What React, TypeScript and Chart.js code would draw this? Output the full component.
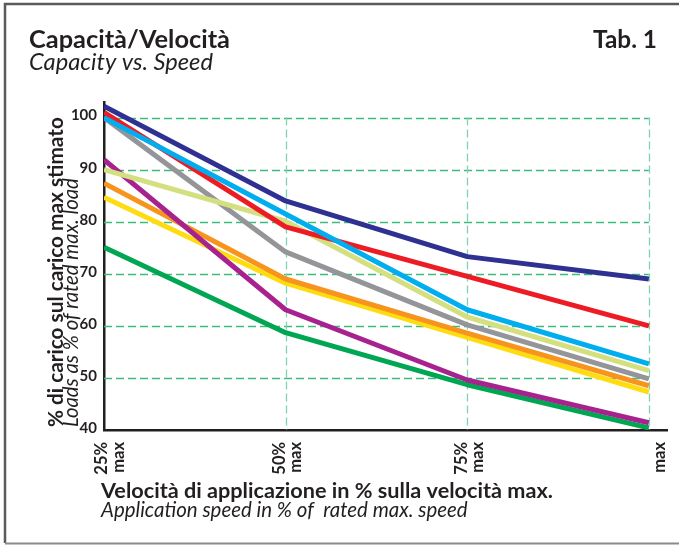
import React, { useEffect, useRef } from "react";
import { Chart, registerables } from "chart.js";

Chart.register(...registerables);

const categories: string[][] = [["25%", "max"], ["50%", "max"], ["75%", "max"], ["", "max"]];
const yTicks: number[] = [40, 50, 60, 70, 80, 90, 100];

const navy: number[] = [102.2, 84, 73.3, 69.0];
const cyan: number[] = [100, 81.5, 63.1, 52.7];
const red: number[] = [101.0, 79, 69.5, 60.0];
const lightGreen: number[] = [90.0, 80.1, 61.7, 51.4];
const gray: number[] = [100, 74.2, 60.2, 49.8];
const purple: number[] = [91.9, 63.1, 49.6, 41.4];
const orange: number[] = [87.4, 69.0, 58.6, 48.5];
const yellow: number[] = [84.7, 68.2, 57.8, 47.3];
const green: number[] = [75.1, 58.7, 48.7, 40.4];

const series = [
  { name: "navy", values: navy, color: "#2e3192" },
  { name: "cyan", values: cyan, color: "#00aeef" },
  { name: "red", values: red, color: "#ed1c24" },
  { name: "lightGreen", values: lightGreen, color: "#d4e07f" },
  { name: "gray", values: gray, color: "#939598" },
  { name: "purple", values: purple, color: "#a8228f" },
  { name: "orange", values: orange, color: "#f7941d" },
  { name: "yellow", values: yellow, color: "#ffdc12" },
  { name: "green", values: green, color: "#00a651" },
];

const FONT = "Lato, 'Open Sans', sans-serif";
const INK = "#231f20";

function fitFont(ctx: CanvasRenderingContext2D, text: string, style: string, target: number) {
  ctx.font = `${style} 100px ${FONT}`;
  const w = ctx.measureText(text).width;
  const size = (100 * target) / w;
  ctx.font = `${style} ${size.toFixed(2)}px ${FONT}`;
}

const decorPlugin = {
  id: "decor",
  beforeDatasetsDraw(chart: any) {
    const { ctx, scales } = chart;
    const xs = scales.x;
    const ys = scales.y;
    const x0 = xs.getPixelForValue(0);
    const x3 = xs.getPixelForValue(3);
    const y40 = ys.getPixelForValue(40);
    const y100 = ys.getPixelForValue(100);
    ctx.save();
    ctx.lineWidth = 1.3;
    ctx.setLineDash([8, 4]);
    ctx.strokeStyle = "#3dbb7e";
    yTicks.forEach((v) => {
      if (v === 40) return;
      const y = Math.round(ys.getPixelForValue(v)) + 0.5;
      ctx.beginPath();
      ctx.moveTo(x0, y);
      ctx.lineTo(x3, y);
      ctx.stroke();
    });
    ctx.strokeStyle = "#7fd3b5";
    [1, 2, 3].forEach((v) => {
      const x = Math.round(xs.getPixelForValue(v)) + 0.5;
      ctx.beginPath();
      ctx.moveTo(x, y100);
      ctx.lineTo(x, y40);
      ctx.stroke();
    });
    ctx.restore();
  },
  afterDraw(chart: any) {
    const { ctx, scales } = chart;
    const xs = scales.x;
    const ys = scales.y;
    ctx.save();
    // frame
    ctx.strokeStyle = "#5a5a5a";
    ctx.lineWidth = 2.5;
    ctx.beginPath();
    ctx.moveTo(690, 4);
    ctx.lineTo(5, 4);
    ctx.lineTo(5, 543);
    ctx.stroke();
    ctx.strokeStyle = "#8a8a8a";
    ctx.lineWidth = 2;
    ctx.beginPath();
    ctx.moveTo(5, 543.5);
    ctx.lineTo(690, 543.5);
    ctx.stroke();

    ctx.fillStyle = INK;

    // y tick labels
    ctx.font = `bold 15px ${FONT}`;
    ctx.textAlign = "right";
    ctx.textBaseline = "middle";
    yTicks.forEach((v) => {
      ctx.fillText(String(v), xs.left - 7, ys.getPixelForValue(v) - 2);
    });

    // x tick labels (rotated)
    ctx.font = `bold 16.5px ${FONT}`;
    categories.forEach((lines, i) => {
      const px = xs.getPixelForValue(i);
      const c1 = Math.max(px - 6, xs.left - 2);
      const centers = [c1, c1 + 16.5];
      lines.forEach((t, j) => {
        if (!t) return;
        ctx.save();
        ctx.translate(centers[j], 442);
        ctx.rotate(-Math.PI / 2);
        ctx.textAlign = "right";
        ctx.textBaseline = "middle";
        ctx.fillText(t, 0, 0);
        ctx.restore();
      });
    });

    ctx.textBaseline = "alphabetic";
    ctx.textAlign = "left";
    fitFont(ctx, "Capacità/Velocità", "bold", 201);
    ctx.fillText("Capacità/Velocità", 29, 48);
    ctx.textAlign = "right";
    fitFont(ctx, "Tab. 1", "bold", 64);
    ctx.fillText("Tab. 1", 657, 48);
    ctx.textAlign = "left";
    fitFont(ctx, "Capacity vs. Speed", "italic", 184);
    ctx.fillText("Capacity vs. Speed", 29, 70);

    fitFont(ctx, "Velocità di applicazione in % sulla velocità max.", "bold", 452);
    ctx.fillText("Velocità di applicazione in % sulla velocità max.", 101, 498);
    fitFont(ctx, "Application speed in % of  rated max. speed", "italic", 367);
    ctx.fillText("Application speed in % of  rated max. speed", 101, 517);

    ctx.save();
    ctx.translate(63, 427);
    ctx.rotate(-Math.PI / 2);
    fitFont(ctx, "% di carico sul carico max stimato", "bold", 310);
    ctx.fillText("% di carico sul carico max stimato", 0, 0);
    ctx.restore();
    ctx.save();
    ctx.translate(78, 427);
    ctx.rotate(-Math.PI / 2);
    fitFont(ctx, "Loads as % of rated max. load", "italic", 249);
    ctx.fillText("Loads as % of rated max. load", 0, 0);
    ctx.restore();

    ctx.restore();
  },
};

export default function App() {
  const ref = useRef<HTMLCanvasElement | null>(null);
  useEffect(() => {
    if (!ref.current) return;
    const chart = new Chart(ref.current, {
      type: "line",
      data: {
        datasets: series.map((s) => ({
          label: s.name,
          data: s.values.map((v, i) => ({ x: i, y: v })),
          borderColor: s.color,
          backgroundColor: s.color,
          borderWidth: 5,
          pointRadius: 0,
          tension: 0,
          borderJoinStyle: "round" as const,
          borderCapStyle: "butt" as const,
        })),
      },
      options: {
        animation: false,
        responsive: false,
        layout: { autoPadding: false, padding: { left: 0, top: 102, right: 12, bottom: 0 } },
        plugins: { legend: { display: false }, tooltip: { enabled: false }, title: { display: false } },
        scales: {
          x: {
            type: "linear",
            min: 0,
            max: 3.1,
            afterFit: (scale: any) => {
              scale.height = 115;
              scale.paddingLeft = 0;
              scale.paddingRight = 0;
            },
            grid: { display: false, drawTicks: false },
            border: { display: true, color: INK, width: 2.5 },
            ticks: { display: false, stepSize: 1, includeBounds: false },
          },
          y: {
            type: "linear",
            min: 40,
            max: 103,
            afterFit: (scale: any) => {
              scale.width = 104;
              scale.paddingTop = 0;
              scale.paddingBottom = 0;
            },
            grid: { display: false, drawTicks: false },
            border: { display: true, color: INK, width: 2.5 },
            ticks: { display: false, stepSize: 10, includeBounds: false },
          },
        },
      },
      plugins: [decorPlugin],
    });
    return () => chart.destroy();
  }, []);
  return (
    <div style={{ position: "absolute", left: 0, top: 0, width: 679, height: 545, background: "#fff" }}>
      <canvas ref={ref} width={679} height={545} style={{ width: 679, height: 545, display: "block" }} />
    </div>
  );
}
